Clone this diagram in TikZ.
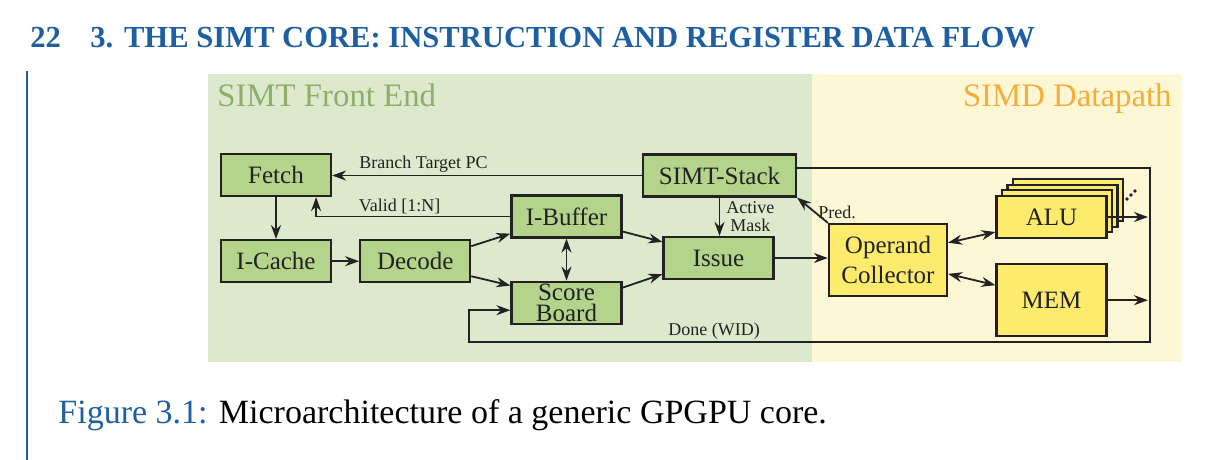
\documentclass[tikz,border=0pt]{standalone}
\usepackage{fontspec}
\setmainfont{Liberation Serif}
\usetikzlibrary{arrows.meta, positioning, calc}
\definecolor{frontbg}{HTML}{DCE9CD}
\definecolor{simdbg}{HTML}{FEF7D6}
\definecolor{stagegreen}{HTML}{B4D38B}
\definecolor{unityellow}{HTML}{FCEB6D}
\definecolor{frontlbl}{HTML}{8FAE6B}
\definecolor{simdlbl}{HTML}{F5AE3A}
\definecolor{pageblue}{HTML}{1D5FA2}
\definecolor{ink}{HTML}{222222}

\begin{document}
\begin{tikzpicture}[
  x=0.5pt, y=-0.5pt,
  >={Stealth[length=7pt, width=5pt]},
  arr/.style={draw=ink, line width=0.9pt, ->},
  darr/.style={draw=ink, line width=0.9pt, <->},
  stage/.style={rectangle, draw=ink, line width=1.1pt, fill=stagegreen, text=ink,
    minimum width=55pt, minimum height=21pt, inner sep=0pt, align=center,
    font=\fontsize{12.5}{10.3}\selectfont},
  unit/.style={stage, fill=unityellow},
  lbl/.style={font=\fontsize{9}{9}\selectfont, text=ink, inner sep=1pt},
  region/.style={font=\fontsize{16.4}{18}\selectfont, inner sep=0pt},
  pagetext/.style={font=\fontsize{15.3}{16}\selectfont\bfseries, text=pageblue,
    anchor=base west, inner sep=0pt},
]
\useasboundingbox (0,0) rectangle (1210,460);

% Page header and margin rule
\node[pagetext] (pagenum) at (30,48) {22};
\node[pagetext] (chapter) at (90,48) {3.\hspace{0.35em}THE SIMT CORE: INSTRUCTION AND REGISTER DATA FLOW};
\draw[pageblue, line width=1.25pt] (27,71) -- (27,460);

% Backgrounds
\fill[frontbg] (208,74) rectangle (812,362);
\fill[simdbg] (812,74) rectangle (1182,362);
\node[region, text=frontlbl, anchor=base west] (frontlabel) at (217,107) {SIMT Front End};
\node[region, text=simdlbl, anchor=base east] (simdlabel) at (1172,107) {SIMD Datapath};

% === Front end stages ===
\node[stage] (fetch) at (276,175) {Fetch};
\node[stage, below=21pt of fetch] (icache) {I-Cache};
\node[stage, right=13.5pt of icache] (decode) {Decode};
\node[stage] (ibuffer) at (566.5,216.5) {I-Buffer};
\node[stage, below=21pt of ibuffer] (score) {Score\\Board};
\node[stage] (issue) at (718.5,258) {Issue};
\node[stage, minimum width=76.5pt] (simt) at (719.5,175.5) {SIMT-Stack};

% === Datapath units ===
\node[unit, minimum width=59pt, minimum height=36pt,
  font=\fontsize{12.5}{15}\selectfont] (opcoll) at (888,260) {Operand\\Collector};
\foreach \k in {3,2,1}
  \node[unit] (alu\k) at ({1051.5+5.5*\k},{217-5.7*\k}) {};
\node[unit] (alu) at (1051.5,217) {ALU};
\node[unit, minimum height=36pt, below=12pt of alu] (mem) {MEM};
\foreach \d in {0,1,2}
  \fill[ink] ({1127+4*\d},{199-4*\d}) circle (0.9pt);

% Writeback bus corners
\coordinate (busNE) at (1150,168);
\coordinate (busSE) at (1150,342);
\coordinate (busSW) at (469,342);
\coordinate (validin) at ($(fetch.south east)+(-16,0)$);

% === Connectors ===
\draw[arr] (simt.west) -- node[lbl, above, pos=0.705] (bpc) {Branch Target PC} (simt.west -| fetch.east);
\draw[arr] (ibuffer.west) -- node[lbl, above, pos=0.57] (valid) {Valid [1:N]} (ibuffer.west -| validin) -- (validin);
\draw[arr] (fetch) -- (icache);
\draw[arr] (icache) -- (decode);
\draw[arr] (decode.15) -- (ibuffer.197);
\draw[arr] (decode.-15) -- (score.163);
\draw[arr] (ibuffer.-15) -- (issue.164);
\draw[arr] (score.15) -- (issue.196);
\draw[darr] (ibuffer) -- (score);
\draw[arr] (simt.south) -- node[lbl, right, align=center, inner sep=3pt] (mask) {Active\\Mask} (simt.south |- issue.north);
\draw[arr] (issue.east) -- (issue.east -| opcoll.west);
\draw[arr] (opcoll.north west) -- node[lbl, right, pos=0.4] (pred) {Pred.} (simt.south east);
\draw[darr] (opcoll.16) -- (alu.195);
\draw[darr] (opcoll.-13) -- (mem.165);
\draw[arr, shorten >=1pt] (alu.east) -- (alu.east -| busNE);
\draw[arr, shorten >=1pt] (mem.east) -- (mem.east -| busNE);
\draw[arr] (simt.east |- busNE) -- (busNE) -- (busSE)
  -- node[lbl, above, pos=0.64] (done) {Done (WID)} (busSW) |- ($(score.west)+(0,7.5)$);

% Caption
\node[font=\fontsize{17}{18}\selectfont, anchor=base west, inner sep=0pt] (caption) at (58,423)
  {\textcolor{pageblue}{Figure 3.1:} Microarchitecture of a generic GPGPU core.};

\end{tikzpicture}
\end{document}
